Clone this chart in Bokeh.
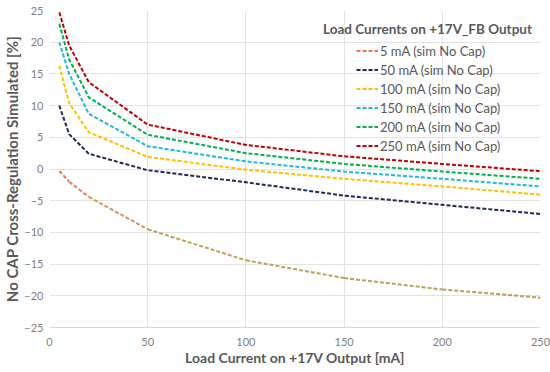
from bokeh.plotting import figure
from bokeh.models import FixedTicker, Legend, LegendItem, Label, Range1d, ColumnDataSource
from bokeh.embed import file_html
from bokeh.resources import INLINE

# ---- data ----
load_x = [5, 10, 20, 50, 100, 150, 200, 250]
s_5mA = [-0.3, -2.0, -4.4, -9.5, -14.4, -17.2, -19.0, -20.3]
s_50mA = [10.0, 5.5, 2.4, -0.2, -2.1, -4.2, -5.65, -7.1]
s_100mA = [16.3, 10.4, 5.8, 1.9, -0.1, -1.55, -2.75, -4.05]
s_150mA = [20.0, 15.0, 8.7, 3.6, 1.2, -0.4, -1.55, -2.75]
s_200mA = [22.9, 17.3, 11.3, 5.4, 2.5, 0.8, -0.4, -1.55]
s_250mA = [24.7, 19.5, 13.7, 7.0, 3.8, 2.0, 0.8, -0.35]
series_names = ["5 mA (sim No Cap)", "50 mA (sim No Cap)", "100 mA (sim No Cap)",
                "150 mA (sim No Cap)", "200 mA (sim No Cap)", "250 mA (sim No Cap)"]
x_ticks = [0, 50, 100, 150, 200, 250]
y_ticks = [-25, -20, -15, -10, -5, 0, 5, 10, 15, 20, 25]

FONT = "Lato"
TXT = "#595959"

p = figure(width=550, height=372, output_backend="svg", toolbar_location=None,
           x_range=Range1d(0, 250), y_range=Range1d(-25, 25),
           min_border_left=48, min_border_right=10, min_border_top=10, min_border_bottom=45)
p.outline_line_color = None
p.background_fill_color = "white"
p.border_fill_color = "white"

for ax in (p.xaxis[0], p.yaxis[0]):
    ax.major_tick_line_color = None
    ax.minor_tick_line_color = None
    ax.major_tick_out = 0
    ax.major_tick_in = 0
    ax.minor_tick_out = 0
    ax.minor_tick_in = 0
    ax.major_label_text_font = FONT
    ax.major_label_text_font_size = "11px"
    ax.major_label_text_color = "#7F7F7F"
    ax.axis_label_text_font = FONT
    ax.axis_label_text_font_style = "bold"
    ax.axis_label_text_color = TXT

p.xaxis.axis_label_text_font_size = "14px"
p.yaxis.axis_label_text_font_size = "15px"
p.xaxis.ticker = FixedTicker(ticks=x_ticks)
p.yaxis.ticker = FixedTicker(ticks=y_ticks)
p.xaxis.axis_line_color = "#D9D9D9"
p.yaxis.axis_line_color = None
p.xaxis.major_label_standoff = 10
p.yaxis.major_label_standoff = 6
p.xaxis.axis_label_standoff = 0
p.yaxis.axis_label_standoff = 0
p.xaxis.axis_label = "Load Current on +17V Output [mA]"
p.yaxis.axis_label = "No CAP Cross-Regulation Simulated [%]"

p.xgrid.ticker = FixedTicker(ticks=x_ticks)
p.ygrid.ticker = FixedTicker(ticks=y_ticks)
p.grid.grid_line_color = "#E3E3E3"
p.grid.grid_line_width = 1

DASH = "4 2"
LW = 2

# 5 mA series: gradient-coloured dashed segments
seg_colors = ["#EE7550", "#E2845A", "#D0985A", "#C2A055", "#BAA354", "#B6A454", "#B3A454"]
src5 = ColumnDataSource(dict(x0=load_x[:-1], y0=s_5mA[:-1], x1=load_x[1:], y1=s_5mA[1:], c=seg_colors))
r5 = p.segment("x0", "y0", "x1", "y1", source=src5, line_color="c", line_width=LW, line_dash=DASH)

colors = ["#1F2B55", "#FFC000", "#1FB8E0", "#00B050", "#C00000"]
others = [s_50mA, s_100mA, s_150mA, s_200mA, s_250mA]
renderers = [r5]
for ys, c in zip(others, colors):
    renderers.append(p.line(load_x, ys, line_color=c, line_width=LW, line_dash=DASH))

items = [LegendItem(label=series_names[0], renderers=[r5], index=0)]
for name, r in zip(series_names[1:], renderers[1:]):
    items.append(LegendItem(label=name, renderers=[r]))

legend = Legend(items=items, location=(307, 172), padding=0, margin=0, spacing=0,
                glyph_width=22, glyph_height=19, label_height=19, label_standoff=2,
                label_text_font=FONT, label_text_font_size="13px", label_text_color=TXT,
                background_fill_alpha=0, border_line_color=None)
p.add_layout(legend, "center")

p.add_layout(Label(x=378, y=299, x_units="screen", y_units="screen",
                   text="Load Currents on +17V_FB Output", text_align="center",
                   text_baseline="middle", text_font=FONT, text_font_style="bold",
                   text_font_size="13.5px", text_color=TXT))

open("out.html", "w").write(file_html(p, INLINE))
